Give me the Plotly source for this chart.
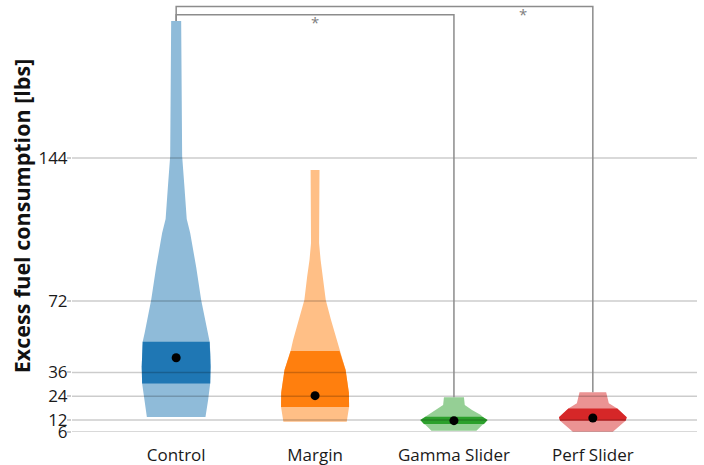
import plotly.graph_objects as go

# Groups and styling
categories = ["Control", "Margin", "Gamma Slider", "Perf Slider"]
dark_colors = ["#1f77b4", "#ff7f0e", "#2ca02c", "#d62728"]
light_colors = ["#8fbbd9", "#ffbf86", "#95cf95", "#eb9393"]

# Kernel-density outlines: value levels (lbs) and half-widths (category units)
control_levels = [213.0, 145.0, 130.0, 122.9, 113.3, 106.2, 89.1, 72.5, 55.9, 51.5, 45.0, 38.9, 30.4, 22.1, 13.6]
control_width = [0.036, 0.043, 0.059, 0.064, 0.076, 0.101, 0.144, 0.180, 0.227, 0.241, 0.247, 0.248, 0.245, 0.230, 0.211]

margin_levels = [138.0, 101.2, 92.6, 84.2, 72.5, 62.4, 52.3, 46.8, 37.2, 25.6, 18.6, 11.2]
margin_width = [0.032, 0.029, 0.040, 0.057, 0.077, 0.115, 0.158, 0.176, 0.220, 0.244, 0.245, 0.228]

gamma_levels = [23.5, 19.6, 17.1, 14.6, 13.7, 12.0, 10.0, 9.5, 6.65]
gamma_width = [0.072, 0.078, 0.130, 0.194, 0.205, 0.242, 0.216, 0.204, 0.162]

perf_levels = [26.0, 20.5, 17.9, 15.4, 13.4, 11.7, 8.7, 6.15]
perf_width = [0.096, 0.115, 0.176, 0.216, 0.244, 0.236, 0.186, 0.144]

# Summary statistics per group
medians = [43.4, 24.3, 11.7, 13.05]
q1 = [30.4, 18.6, 10.0, 11.7]
q3 = [51.5, 46.8, 13.7, 17.9]

y_ticks = [6, 12, 24, 36, 72, 144]

# Significant pairwise comparisons
comparisons = [("Control", "Gamma Slider"), ("Control", "Perf Slider")]
comparison_labels = ["*", "*"]
label_x = [1.0, 2.5]

profiles = [
    (control_levels, control_width),
    (margin_levels, margin_width),
    (gamma_levels, gamma_width),
    (perf_levels, perf_width),
]

fig = go.Figure()


def outline(center, levels, widths):
    xs = [center + w for w in widths] + [center - w for w in reversed(widths)]
    ys = list(levels) + list(reversed(levels))
    return xs + [xs[0]], ys + [ys[0]]


for i, (levels, widths) in enumerate(profiles):
    xs, ys = outline(i, levels, widths)
    fig.add_trace(go.Scatter(x=xs, y=ys, mode="lines", fill="toself",
                             fillcolor=light_colors[i], line=dict(width=0),
                             hoverinfo="skip", showlegend=False))
    # interquartile band, following the density outline
    band = [(l, w) for l, w in zip(levels, widths) if q1[i] <= l <= q3[i]]
    bl = [b[0] for b in band]
    bw = [b[1] for b in band]
    xs, ys = outline(i, bl, bw)
    fig.add_trace(go.Scatter(x=xs, y=ys, mode="lines", fill="toself",
                             fillcolor=dark_colors[i], line=dict(width=0),
                             hoverinfo="skip", showlegend=False))

fig.add_trace(go.Scatter(x=list(range(len(categories))), y=medians, mode="markers",
                         marker=dict(color="black", size=9), showlegend=False))

grid_color = "rgba(0,0,0,0.2)"
shapes = []
for t in y_ticks:
    shapes.append(dict(type="line", xref="paper", yref="y", x0=0, x1=1, y0=t, y1=t,
                       line=dict(color=grid_color, width=1.5), layer="above"))

# Significance brackets
tops = [lv[0] for lv, _ in profiles]
base = max(tops)
bracket_color = "#8c8c8c"
annotations = []
for k, (a, b) in enumerate(comparisons):
    ia, ib = categories.index(a), categories.index(b)
    level = base + 3.2 + 4.1 * k
    shapes.append(dict(type="path", xref="x", yref="y",
                       path=f"M {ia},{tops[ia]} L {ia},{level} L {ib},{level} L {ib},{tops[ib]}",
                       line=dict(color=bracket_color, width=1.5), layer="above"))
    annotations.append(dict(x=label_x[k], y=level, xref="x", yref="y", text=comparison_labels[k],
                            showarrow=False, yanchor="top", yshift=5,
                            font=dict(size=15, color="#808080")))

font_family = "Open Sans"
fig.update_layout(
    width=704, height=465,
    margin=dict(l=72, r=7, t=0, b=33),
    paper_bgcolor="white", plot_bgcolor="white",
    shapes=shapes, annotations=annotations,
    font=dict(family=font_family, size=16, color="#1a1a1a"),
    xaxis=dict(range=[-0.75, 3.75], tickvals=list(range(len(categories))), ticktext=categories,
               showgrid=False, zeroline=False, showline=False, ticks="",
               ticklabelstandoff=11, tickfont=dict(size=17)),
    yaxis=dict(range=[6, 223.6], tickvals=y_ticks, ticktext=[str(t) for t in y_ticks],
               showgrid=False, zeroline=False, showline=False,
               ticks="outside", ticklen=4, tickcolor=grid_color, tickwidth=1.5,
               ticklabelstandoff=-4, tickfont=dict(size=17),
               title=dict(text="Excess fuel consumption [lbs]", standoff=1,
                          font=dict(size=21.5, weight="bold", color="#111111"))),
)

fig.write_html("out.html")
